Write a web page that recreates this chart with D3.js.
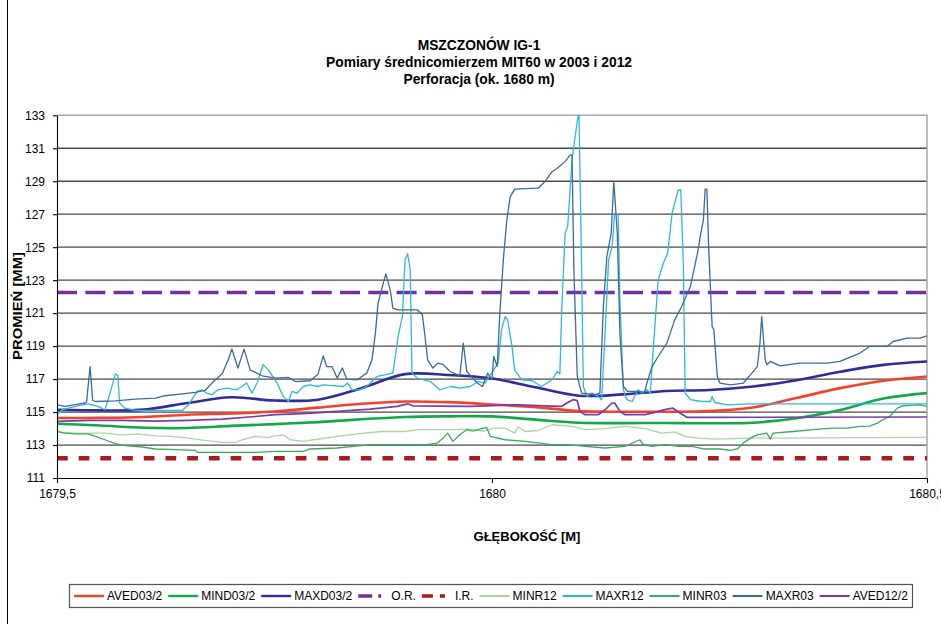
<!DOCTYPE html>
<html><head><meta charset="utf-8">
<script src="https://cdn.jsdelivr.net/npm/d3@7"></script>
<style>
body{margin:0;background:#fff}
svg{display:block}
text{font-family:"Liberation Sans",Arial,Helvetica,sans-serif;fill:#000}
</style>
</head><body>
<svg id="c" width="941" height="624"></svg>
<script>
// ---------------- DATA ----------------
const titleLines = ["MSZCZONÓW IG-1", "Pomiary średnicomierzem MIT60 w 2003 i 2012", "Perforacja (ok. 1680 m)"];
const yTitle = "PROMIEŃ [MM]";
const xTitle = "GŁĘBOKOŚĆ [M]";
const yTicks = [111, 113, 115, 117, 119, 121, 123, 125, 127, 129, 131, 133];
const xTicks = [1679.5, 1680, 1680.5];
const xTickLabels = ["1679,5", "1680", "1680,5"];
const seriesNames = ["AVED03/2", "MIND03/2", "MAXD03/2", "O.R.", "I.R.", "MINR12", "MAXR12", "MINR03", "MAXR03", "AVED12/2"];

// smooth 2003 curves on a common depth grid
const smoothDepth = [1679.50, 1679.55, 1679.60, 1679.65, 1679.70, 1679.75, 1679.80, 1679.85, 1679.90, 1679.95, 1680.00,
                     1680.05, 1680.10, 1680.15, 1680.20, 1680.25, 1680.30, 1680.35, 1680.40, 1680.45, 1680.50];
const aved03 = [114.64, 114.65, 114.70, 114.84, 114.91, 115.03, 115.27, 115.50, 115.64, 115.60, 115.46,
                115.30, 115.06, 115.02, 115.02, 115.06, 115.28, 115.85, 116.45, 116.90, 117.16];
const mind03 = [114.29, 114.18, 114.05, 114.03, 114.16, 114.27, 114.39, 114.56, 114.70, 114.74, 114.74,
                114.54, 114.35, 114.33, 114.34, 114.32, 114.35, 114.62, 115.12, 115.82, 116.15];
const maxd03 = [115.14, 115.10, 115.15, 115.55, 115.90, 115.70, 115.75, 116.45, 117.30, 117.25, 117.04,
                116.50, 115.99, 116.07, 116.28, 116.34, 116.55, 116.93, 117.44, 117.86, 118.07];

// radii limits
const orValue = 122.25;
const irValue = 112.2;

// raw measurements [depth, radius]
const minr12 = [[1679.500,113.80],[1679.521,113.72],[1679.540,113.72],[1679.555,113.72],[1679.575,113.62],[1679.593,113.68],[1679.613,113.56],[1679.632,113.52],[1679.651,113.42],[1679.670,113.28],[1679.690,113.16],[1679.705,113.16],[1679.713,113.32],[1679.728,113.52],[1679.743,113.45],[1679.751,113.56],[1679.760,113.62],[1679.768,113.32],[1679.783,113.22],[1679.799,113.35],[1679.822,113.52],[1679.845,113.68],[1679.860,113.76],[1679.875,113.82],[1679.898,113.82],[1679.917,113.93],[1679.937,113.93],[1679.955,113.93],[1679.975,113.96],[1679.990,113.85],[1680.003,114.03],[1680.015,114.03],[1680.026,113.72],[1680.030,114.09],[1680.038,113.82],[1680.053,113.88],[1680.069,114.23],[1680.092,114.13],[1680.107,113.93],[1680.130,114.00],[1680.153,114.13],[1680.176,114.00],[1680.195,113.72],[1680.210,113.80],[1680.222,113.52],[1680.237,113.42],[1680.259,113.36],[1680.297,113.42],[1680.500,113.46]];

const maxr12 = [[1679.500,114.84],[1679.506,115.14],[1679.521,115.34],[1679.536,115.50],[1679.547,115.34],[1679.555,115.14],[1679.561,116.15],[1679.567,117.32],[1679.570,117.20],[1679.572,115.55],[1679.578,115.24],[1679.590,115.10],[1679.644,115.10],[1679.651,115.44],[1679.661,116.25],[1679.667,116.35],[1679.672,116.15],[1679.678,116.05],[1679.685,116.35],[1679.695,116.45],[1679.707,116.35],[1679.718,116.76],[1679.724,116.15],[1679.730,116.76],[1679.737,117.87],[1679.743,117.56],[1679.753,116.76],[1679.760,115.95],[1679.766,115.64],[1679.770,116.25],[1679.776,116.15],[1679.783,116.55],[1679.791,116.65],[1679.799,116.55],[1679.806,116.65],[1679.817,116.60],[1679.829,116.55],[1679.834,116.76],[1679.839,116.35],[1679.848,116.35],[1679.856,116.55],[1679.868,117.16],[1679.877,117.26],[1679.886,117.36],[1679.890,118.78],[1679.892,119.58],[1679.897,120.79],[1679.900,124.23],[1679.903,124.60],[1679.906,123.62],[1679.908,117.36],[1679.914,117.06],[1679.929,116.85],[1679.940,116.35],[1679.952,116.55],[1679.963,116.45],[1679.975,116.55],[1679.984,116.85],[1679.992,116.76],[1679.998,117.26],[1680.007,117.97],[1680.011,119.99],[1680.015,120.79],[1680.018,120.59],[1680.023,118.98],[1680.026,117.56],[1680.034,116.96],[1680.046,116.90],[1680.057,116.55],[1680.069,116.96],[1680.075,117.46],[1680.078,117.30],[1680.080,121.00],[1680.084,125.85],[1680.087,126.25],[1680.092,130.29],[1680.095,131.50],[1680.099,133.00],[1680.100,133.00],[1680.103,123.83],[1680.105,116.55],[1680.109,115.95],[1680.115,116.15],[1680.122,115.95],[1680.126,115.75],[1680.130,119.79],[1680.134,124.23],[1680.138,125.04],[1680.141,127.06],[1680.145,126.95],[1680.147,121.81],[1680.151,116.35],[1680.155,115.75],[1680.161,115.64],[1680.168,116.35],[1680.172,116.15],[1680.178,116.35],[1680.182,116.15],[1680.185,118.58],[1680.191,123.02],[1680.197,124.03],[1680.202,124.64],[1680.207,127.06],[1680.210,127.67],[1680.214,128.47],[1680.217,128.47],[1680.220,123.83],[1680.222,116.15],[1680.228,115.75],[1680.241,115.64],[1680.251,115.64],[1680.253,115.95],[1680.256,115.58],[1680.270,115.44],[1680.297,115.50],[1680.354,115.50],[1680.500,115.50]];

const minr03 = [[1679.500,113.82],[1679.509,113.72],[1679.521,113.68],[1679.536,113.68],[1679.544,113.52],[1679.555,113.32],[1679.567,113.08],[1679.578,112.96],[1679.598,112.88],[1679.613,112.76],[1679.636,112.72],[1679.659,112.67],[1679.662,112.55],[1679.690,112.55],[1679.728,112.55],[1679.751,112.61],[1679.783,112.61],[1679.791,112.76],[1679.822,112.82],[1679.860,113.02],[1679.925,113.02],[1679.937,113.12],[1679.944,113.42],[1679.949,113.72],[1679.955,113.22],[1679.963,113.62],[1679.971,113.93],[1679.978,113.85],[1679.990,114.03],[1679.994,114.05],[1679.998,113.52],[1680.015,113.32],[1680.038,113.22],[1680.069,113.02],[1680.087,113.02],[1680.107,112.92],[1680.130,112.82],[1680.153,112.92],[1680.170,113.32],[1680.174,113.02],[1680.184,112.92],[1680.199,113.02],[1680.214,112.92],[1680.230,112.92],[1680.243,112.76],[1680.262,112.76],[1680.274,112.67],[1680.282,112.76],[1680.289,113.12],[1680.297,113.42],[1680.305,113.62],[1680.316,113.72],[1680.320,113.36],[1680.323,113.72],[1680.346,113.82],[1680.369,113.93],[1680.392,114.03],[1680.408,114.03],[1680.423,114.13],[1680.434,114.15],[1680.443,114.33],[1680.449,114.53],[1680.457,114.73],[1680.466,115.24],[1680.472,115.38],[1680.492,115.44],[1680.500,115.34]];

const maxr03 = [[1679.500,115.44],[1679.509,115.35],[1679.521,115.45],[1679.532,115.55],[1679.534,115.60],[1679.538,117.76],[1679.541,115.70],[1679.544,115.64],[1679.567,115.68],[1679.590,115.79],[1679.613,115.85],[1679.624,115.99],[1679.644,116.10],[1679.659,116.19],[1679.670,116.31],[1679.682,116.96],[1679.690,117.32],[1679.697,118.20],[1679.701,118.82],[1679.708,117.67],[1679.715,118.82],[1679.722,117.56],[1679.736,117.20],[1679.751,117.06],[1679.766,117.10],[1679.774,116.85],[1679.791,116.90],[1679.800,117.30],[1679.806,118.41],[1679.810,117.76],[1679.816,117.76],[1679.822,117.06],[1679.828,117.67],[1679.833,117.00],[1679.845,116.96],[1679.856,117.36],[1679.862,118.17],[1679.866,119.79],[1679.869,121.60],[1679.874,122.61],[1679.878,123.38],[1679.883,122.41],[1679.886,121.30],[1679.892,121.20],[1679.914,121.20],[1679.920,120.90],[1679.923,119.58],[1679.926,118.17],[1679.932,117.67],[1679.938,117.97],[1679.944,117.87],[1679.952,117.46],[1679.963,117.20],[1679.967,119.18],[1679.971,117.46],[1679.983,116.76],[1679.989,116.55],[1679.995,117.36],[1680.000,116.96],[1680.002,118.37],[1680.006,117.76],[1680.009,121.00],[1680.013,124.23],[1680.017,126.65],[1680.021,128.07],[1680.026,128.52],[1680.053,128.58],[1680.061,128.98],[1680.069,129.58],[1680.075,129.79],[1680.084,130.19],[1680.090,130.60],[1680.092,130.60],[1680.094,123.83],[1680.098,117.16],[1680.103,116.15],[1680.118,116.05],[1680.124,116.15],[1680.128,121.40],[1680.132,124.43],[1680.137,125.85],[1680.140,128.98],[1680.144,125.85],[1680.147,119.79],[1680.151,116.55],[1680.156,116.25],[1680.170,116.25],[1680.175,116.15],[1680.178,116.76],[1680.184,117.76],[1680.191,118.37],[1680.201,119.18],[1680.210,120.59],[1680.218,121.40],[1680.228,122.61],[1680.237,124.84],[1680.239,125.55],[1680.243,126.65],[1680.245,128.52],[1680.247,128.52],[1680.249,125.04],[1680.253,120.19],[1680.255,119.99],[1680.259,117.16],[1680.262,116.76],[1680.274,116.65],[1680.289,116.76],[1680.297,117.26],[1680.305,117.76],[1680.308,119.18],[1680.310,120.79],[1680.314,118.17],[1680.316,117.87],[1680.320,118.07],[1680.331,117.80],[1680.354,117.97],[1680.385,117.97],[1680.400,118.07],[1680.423,118.58],[1680.434,118.98],[1680.454,118.98],[1680.461,119.28],[1680.477,119.48],[1680.492,119.48],[1680.500,119.62]];

const aved12 = [[1679.500,114.43],[1679.536,114.49],[1679.575,114.49],[1679.613,114.45],[1679.651,114.49],[1679.690,114.57],[1679.728,114.73],[1679.751,114.84],[1679.783,114.90],[1679.822,115.04],[1679.860,115.18],[1679.891,115.34],[1679.903,115.50],[1679.909,115.38],[1679.937,115.36],[1679.975,115.34],[1679.994,115.38],[1680.015,115.42],[1680.030,115.44],[1680.061,115.38],[1680.080,115.34],[1680.086,115.55],[1680.093,115.75],[1680.098,115.70],[1680.101,115.04],[1680.107,114.84],[1680.122,114.84],[1680.130,115.14],[1680.138,115.55],[1680.141,115.55],[1680.147,115.04],[1680.153,114.84],[1680.176,114.84],[1680.187,114.98],[1680.201,115.18],[1680.208,115.24],[1680.216,114.94],[1680.224,114.68],[1680.241,114.68],[1680.500,114.70]];

// ---------------- STYLES ----------------
const colors = {
  "AVED03/2": "#f5432b", "MIND03/2": "#13a84a", "MAXD03/2": "#2f2f98",
  "O.R.": "#7030a0", "I.R.": "#a81c1c",
  "MINR12": "#a6da9c", "MAXR12": "#2db8e6", "MINR03": "#3aac60",
  "MAXR03": "#3d6a9f", "AVED12/2": "#7a3caa"
};
const widths = {
  "AVED03/2": 2.6, "MIND03/2": 2.6, "MAXD03/2": 2.6, "O.R.": 3.5, "I.R.": 4.5,
  "MINR12": 1.3, "MAXR12": 1.3, "MINR03": 1.3, "MAXR03": 1.3, "AVED12/2": 1.7
};

// ---------------- CHART ----------------
const svg = d3.select("#c");
const x = d3.scaleLinear().domain([1679.5, 1680.5]).range([57, 927]);
const y = d3.scaleLinear().domain([111, 133]).range([478, 115.3]);

// outer chart border (left edge visible)
svg.append("line").attr("x1", 7.5).attr("x2", 7.5).attr("y1", 0).attr("y2", 624)
  .attr("stroke", "#000").attr("stroke-width", 1);

// title
svg.append("g").selectAll("text").data(titleLines).join("text")
  .attr("x", 479).attr("y", (d, i) => 50 + i * 17)
  .attr("text-anchor", "middle").attr("font-weight", "bold").attr("font-size", 13.8)
  .text(d => d);

// gridlines
svg.append("g").selectAll("line").data(yTicks.filter(t => t !== 111 && t !== 133)).join("line")
  .attr("x1", 57).attr("x2", 927).attr("y1", d => y(d)).attr("y2", d => y(d))
  .attr("stroke", "#4a4a4a").attr("stroke-width", 1.3);
// plot area border top/right
svg.append("path")
  .attr("d", `M57,${y(133)}H927V${y(111)}`)
  .attr("fill", "none").attr("stroke", "#a8a8a8").attr("stroke-width", 1.5);

// clip
svg.append("clipPath").attr("id", "pc").append("rect")
  .attr("x", 57).attr("y", y(133) - 2).attr("width", 870).attr("height", y(111) - y(133) + 2);

const plot = svg.append("g").attr("clip-path", "url(#pc)");
const smoothLine = d3.line().x(d => x(d[0])).y(d => y(d[1])).curve(d3.curveCatmullRom.alpha(0.5));
const rawLine = d3.line().x(d => x(d[0])).y(d => y(d[1]));

function smoothSeries(vals) { return smoothDepth.map((d, i) => [d, vals[i]]); }

const drawOrder = [
  ["AVED03/2", smoothSeries(aved03), smoothLine, null],
  ["MIND03/2", smoothSeries(mind03), smoothLine, null],
  ["MAXD03/2", smoothSeries(maxd03), smoothLine, null],
  ["O.R.", [[1679.5, orValue], [1680.5, orValue]], rawLine, "20,8.3"],
  ["I.R.", [[1679.5, irValue], [1680.5, irValue]], rawLine, "10.7,11"],
  ["MINR12", minr12, rawLine, null],
  ["MAXR12", maxr12, rawLine, null],
  ["MINR03", minr03, rawLine, null],
  ["MAXR03", maxr03, rawLine, null],
  ["AVED12/2", aved12, rawLine, null]
];
drawOrder.forEach(([name, data, gen, dash]) => {
  plot.append("path").datum(data)
    .attr("d", gen)
    .attr("fill", "none")
    .attr("stroke", colors[name])
    .attr("stroke-width", widths[name])
    .attr("stroke-linejoin", "round")
    .attr("stroke-dasharray", dash);
});

// axes
const yAxis = svg.append("g").attr("transform", "translate(57,0)")
  .call(d3.axisLeft(y).tickValues(yTicks).tickFormat(d3.format("d")).tickSize(4).tickSizeOuter(0).tickPadding(8));
const xAxis = svg.append("g").attr("transform", `translate(0,${y(111)})`)
  .call(d3.axisBottom(x).tickValues(xTicks).tickFormat((d, i) => xTickLabels[i]).tickSize(5).tickSizeOuter(0).tickPadding(6));
[yAxis, xAxis].forEach(g => {
  g.selectAll("path,line").attr("stroke", "#000").attr("stroke-width", 1.1);
  g.selectAll("text").attr("font-size", 12).attr("font-family", "'Liberation Sans',Arial,sans-serif").attr("fill", "#000");
});

// axis titles
svg.append("text").attr("transform", "translate(22,306) rotate(-90)")
  .attr("text-anchor", "middle").attr("font-weight", "bold").attr("font-size", 13)
  .attr("textLength", 108).attr("lengthAdjust", "spacingAndGlyphs")
  .text(yTitle);
svg.append("text").attr("x", 527).attr("y", 541)
  .attr("text-anchor", "middle").attr("font-weight", "bold").attr("font-size", 13)
  .text(xTitle);

// legend
const lg = svg.append("g");
lg.append("rect").attr("x", 69.5).attr("y", 584.5).attr("width", 843).attr("height", 23)
  .attr("fill", "#fff").attr("stroke", "#555").attr("stroke-width", 1.2);
const legendDash = {"O.R.": "14,6,3,40", "I.R.": "11,7,5,40"};
let lx = 74;
seriesNames.forEach(name => {
  lg.append("line").attr("x1", lx).attr("x2", lx + 30).attr("y1", 596).attr("y2", 596)
    .attr("stroke", colors[name])
    .attr("stroke-width", legendDash[name] ? 3.5 : Math.max(2, Math.min(widths[name], 2.4)))
    .attr("stroke-dasharray", legendDash[name] || null);
  const t = lg.append("text").attr("x", lx + 33).attr("y", 600.3).attr("font-size", 12).text(name);
  lx += 33 + t.node().getComputedTextLength() + 6;
});
</script>
</body></html>
